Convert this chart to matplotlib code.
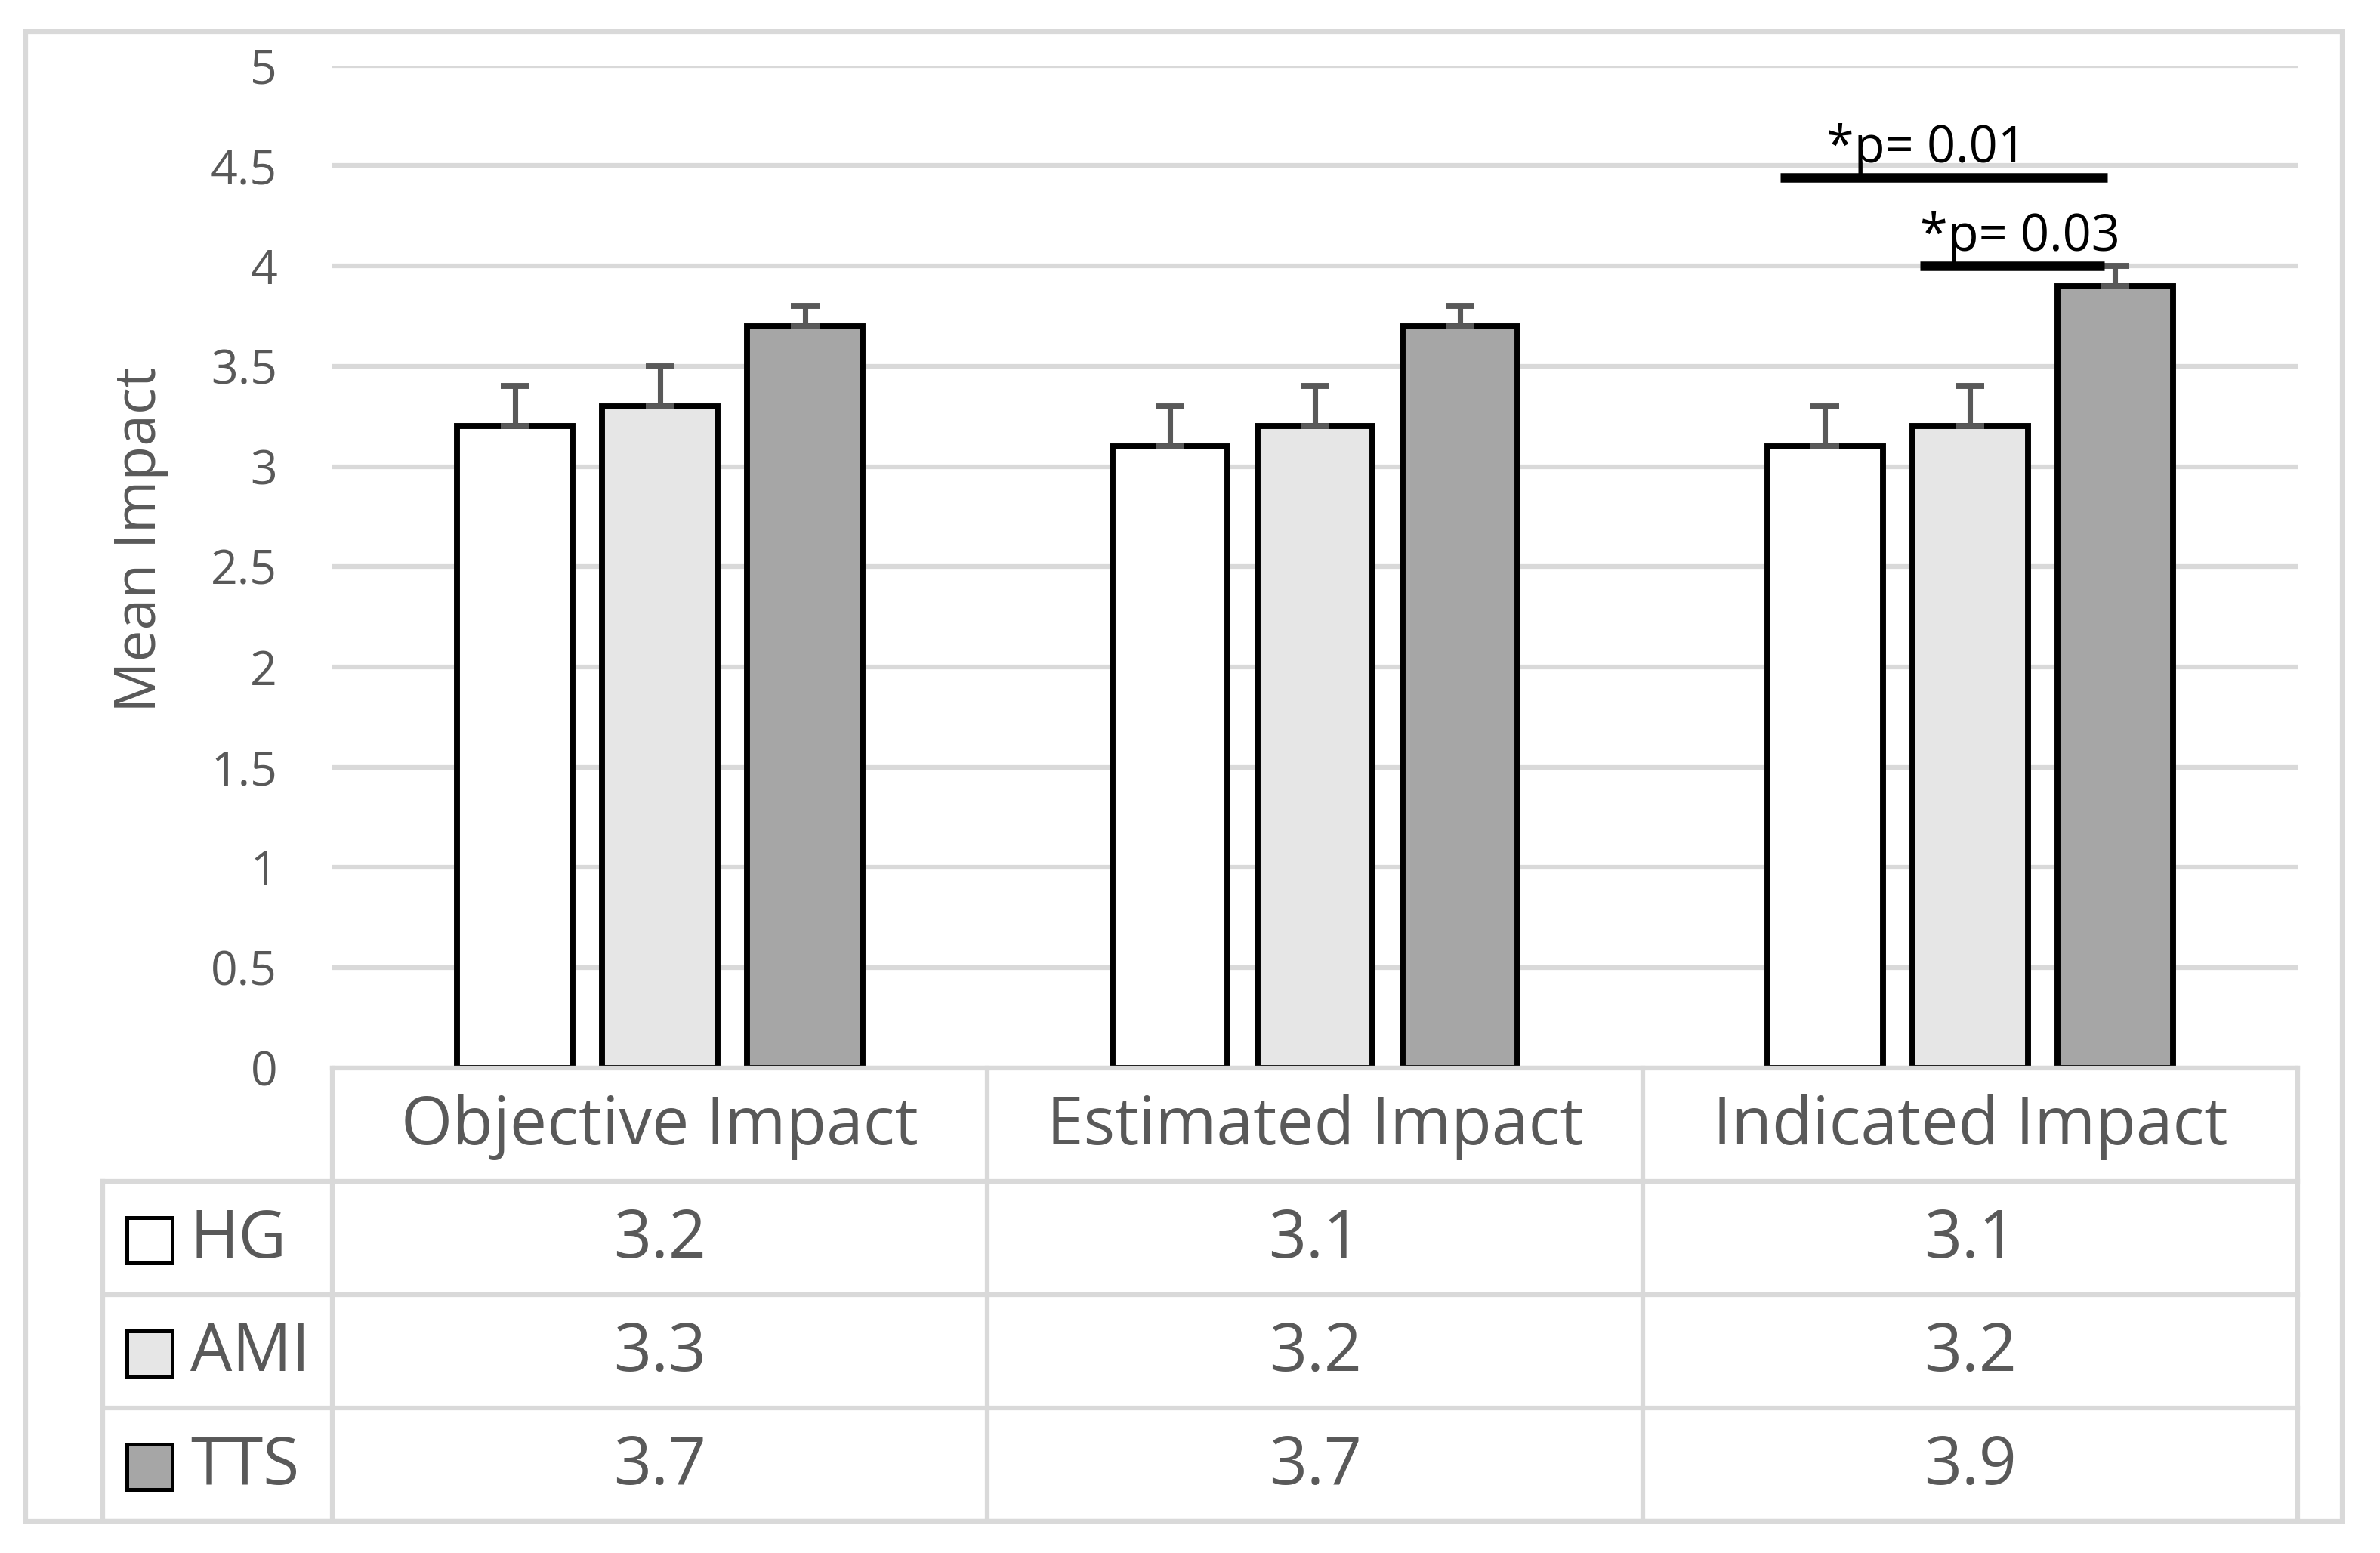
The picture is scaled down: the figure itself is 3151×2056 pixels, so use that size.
import numpy as np
import matplotlib
matplotlib.use('Agg')
import matplotlib.pyplot as plt
from matplotlib.transforms import blended_transform_factory
from matplotlib.patches import Rectangle

# chart data
categories = ['Objective Impact', 'Estimated Impact', 'Indicated Impact']
groups = ['HG', 'AMI', 'TTS']
hg = [3.2, 3.1, 3.1]
ami = [3.3, 3.2, 3.2]
tts = [3.7, 3.7, 3.9]
hg_err = [0.2, 0.2, 0.2]
ami_err = [0.2, 0.2, 0.2]
tts_err = [0.1, 0.1, 0.1]
yticks = [0, 0.5, 1, 1.5, 2, 2.5, 3, 3.5, 4, 4.5, 5]
ytick_labels = ['0', '0.5', '1', '1.5', '2', '2.5', '3', '3.5', '4', '4.5', '5']
sig_labels = ['*p= 0.01', '*p= 0.03']
sig_levels = [4.44, 4.0]
sig_spans = [(1.71, 2.21), (1.924, 2.205)]

colors = ['#ffffff', '#e6e6e6', '#a6a6a6']
grey = '#595959'
light = '#d9d9d9'
plt.rcParams['font.family'] = ['Open Sans', 'DejaVu Sans']

W, H = 3151, 2056
fig = plt.figure(figsize=(W / 300, H / 300), dpi=300)

# plot area in pixels
x_left, x_right = 440, 3042
y_top, y_zero = 86.7, 1413.7
ax = fig.add_axes([x_left / W, 1 - y_zero / H, (x_right - x_left) / W, (y_zero - y_top) / H])

x = np.arange(len(categories))
width = 0.176
step = 0.2213
series = [hg, ami, tts]
errs = [hg_err, ami_err, tts_err]
for i, (vals, err) in enumerate(zip(series, errs)):
    ax.bar(x + (i - 1) * step, vals, width, color=colors[i], edgecolor='black', linewidth=1.9,
           yerr=[np.zeros(len(err)), err],
           error_kw=dict(ecolor=grey, elinewidth=1.7, capsize=4.6, capthick=1.9), zorder=3)

ax.set_xlim(-0.5, len(categories) - 0.5)
ax.set_ylim(0, 5)
ax.set_yticks(yticks)
ax.set_yticklabels(ytick_labels)
ax.set_xticks([])
ax.tick_params(axis='y', length=0, pad=17.5, labelsize=15, labelcolor=grey)
ax.yaxis.grid(True, color=light, linewidth=1.5)
ax.set_axisbelow(True)
for s in ax.spines.values():
    s.set_visible(False)

# significance brackets
for lab, lev, (a, b) in zip(sig_labels, sig_levels, sig_spans):
    ax.plot([a, b], [lev, lev], color='black', lw=3.0, solid_capstyle='butt', zorder=4, clip_on=False)
    ax.text(a + (0.07 if lev > 4.2 else 0.0), lev + 0.075, lab, fontsize=16, color='black',
            ha='left', va='baseline')

fig.text(187 / W, 1 - 714 / H, 'Mean Impact', rotation=90, ha='center', va='center',
         fontsize=18, color=grey)

# overlay in pixel coordinates for the data table
lay = fig.add_axes([0, 0, 1, 1])
lay.set_xlim(0, W)
lay.set_ylim(H, 0)
lay.axis('off')
tr = blended_transform_factory(ax.transData, lay.transData)

lay.add_patch(Rectangle((34, 42), 3101 - 34, 2014 - 42, fill=False, edgecolor=light, lw=1.5))

row_y = [1413.7, 1564, 1714, 1864, 2014]
col_x = [x_left + (x_right - x_left) / 3 * k for k in range(4)]
lay.plot([x_left, x_right], [row_y[0], row_y[0]], color=light, lw=1.5)
for yy in row_y[1:]:
    lay.plot([136, x_right], [yy, yy], color=light, lw=1.5)
for xx in col_x:
    lay.plot([xx, xx], [row_y[0], row_y[-1]], color=light, lw=1.5)
lay.plot([136, 136], [row_y[1], row_y[-1]], color=light, lw=1.5)

for i, cat in enumerate(categories):
    lay.text(x[i], (row_y[0] + row_y[1]) / 2 + 3, cat, transform=tr, ha='center', va='center',
             fontsize=21, color=grey)
for r, (name, vals) in enumerate(zip(groups, series)):
    yc = (row_y[r + 1] + row_y[r + 2]) / 2 + 3
    lay.add_patch(Rectangle((168, yc - 30), 60, 60, facecolor=colors[r], edgecolor='black', lw=1.2))
    lay.text(252, yc, name, ha='left', va='center', fontsize=21, color=grey)
    for i, v in enumerate(vals):
        lay.text(x[i], yc, f'{v:.1f}', transform=tr, ha='center', va='center', fontsize=21, color=grey)

fig.savefig('out.png', dpi=300, facecolor='white')
